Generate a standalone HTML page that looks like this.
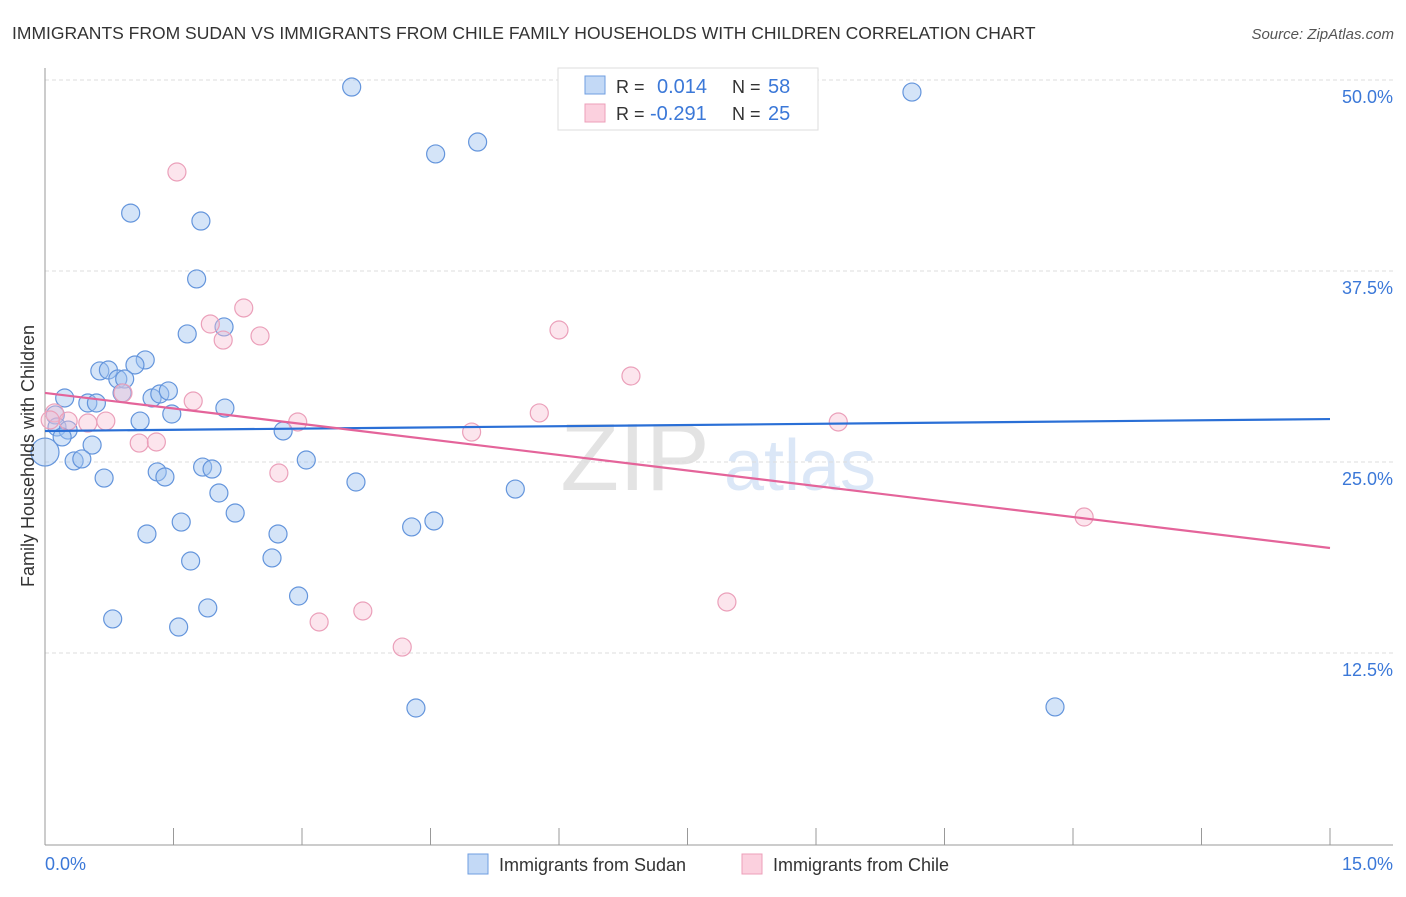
<!DOCTYPE html>
<html><head><meta charset="utf-8"><style>
body{margin:0;background:#fff;font-family:"Liberation Sans",sans-serif}
svg text{font-family:"Liberation Sans",sans-serif}
</style></head><body>
<svg id="c" width="1406" height="892" xmlns="http://www.w3.org/2000/svg">
<text x="12" y="39" font-size="17.5" fill="#333">IMMIGRANTS FROM SUDAN VS IMMIGRANTS FROM CHILE FAMILY HOUSEHOLDS WITH CHILDREN CORRELATION CHART</text>
<text x="1394" y="39" font-size="15" fill="#555" font-style="italic" text-anchor="end">Source: ZipAtlas.com</text>
<g><text x="635" y="490" font-size="96" fill="#e3e3e3" text-anchor="middle" font-family="Liberation Serif">ZIP</text><text x="800" y="490" font-size="72" fill="#dbe7f7" text-anchor="middle">atlas</text></g>
<g id="grid"></g>
<g id="axes"></g>
<g id="pts"></g>
<g id="trend"></g>
<text transform="translate(34,456) rotate(-90)" font-size="18" fill="#333" text-anchor="middle">Family Households with Children</text>
<text x="45" y="870" font-size="18" fill="#3b78d8">0.0%</text>
<text x="1393" y="870" font-size="18" fill="#3b78d8" text-anchor="end">15.0%</text>
<g>
<rect x="558" y="68" width="260" height="62" fill="#fff" stroke="#ddd"/>
<rect x="585" y="76" width="20" height="18" fill="#c3d9f6" stroke="#6f9ee0"/>
<rect x="585" y="104" width="20" height="18" fill="#fbd0de" stroke="#ec9fb9"/>
<text x="616" y="93" font-size="18" fill="#333">R = </text><text x="657" y="93" font-size="20" fill="#3b78d8">0.014</text>
<text x="732" y="93" font-size="18" fill="#333">N = </text><text x="768" y="93" font-size="20" fill="#3b78d8">58</text>
<text x="616" y="120" font-size="18" fill="#333">R = </text><text x="650" y="120" font-size="20" fill="#3b78d8">-0.291</text>
<text x="732" y="120" font-size="18" fill="#333">N = </text><text x="768" y="120" font-size="20" fill="#3b78d8">25</text>
</g>
<g>
<rect x="468" y="854" width="20" height="20" fill="#c3d9f6" stroke="#6f9ee0"/>
<text x="499" y="871" font-size="18" fill="#333">Immigrants from Sudan</text>
<rect x="742" y="854" width="20" height="20" fill="#fbd0de" stroke="#ec9fb9"/>
<text x="773" y="871" font-size="18" fill="#333">Immigrants from Chile</text>
</g>
</svg>
<script>
const yTicks=[12.5,25,37.5,50];
const yTickLabels=["12.5%","25.0%","37.5%","50.0%"];
const xTicks=[0,1.5,3,4.5,6,7.5,9,10.5,12,13.5,15];
const sudanX=[3.58,10.12,4.56,5.05,1.00,1.82,1.77,1.66,2.09,1.17,1.05,0.64,0.74,0.85,0.93,0.23,0.50,0.60,0.90,1.25,1.34,1.44,1.48,2.10,1.11,0.12,0.14,0.27,0.20,0.55,2.78,0.0,0.34,0.43,3.05,0.69,1.31,1.40,1.84,1.95,3.63,2.03,5.49,2.22,1.59,4.28,4.54,1.19,2.72,1.70,2.65,2.96,1.90,0.79,1.56,4.33,11.79];
const sudanY=[49.54,49.21,45.16,45.94,41.29,40.77,36.98,33.38,33.84,31.68,31.35,30.96,31.02,30.43,30.43,29.19,28.86,28.86,29.52,29.19,29.45,29.65,28.14,28.53,27.68,28.08,27.29,27.09,26.64,26.11,27.03,25.65,25.07,25.20,25.13,23.95,24.35,24.02,24.67,24.54,23.69,22.97,23.23,21.66,21.07,20.75,21.14,20.29,20.29,18.52,18.72,16.23,15.45,14.73,14.20,8.90,8.97];
const chileX=[1.54,2.32,1.93,2.08,2.51,6.00,6.84,0.91,1.73,0.11,0.27,0.50,0.71,2.95,4.98,5.77,9.26,1.10,1.30,2.73,12.13,7.96,3.71,3.20,4.17,0.06];
const chileY=[43.98,35.08,34.03,32.98,33.25,33.64,30.63,29.52,28.99,28.21,27.68,27.55,27.68,27.62,26.96,28.21,27.62,26.24,26.31,24.28,21.40,15.84,15.25,14.53,12.89,27.75];
const sudanTrend=[27.03,27.81];
const chileTrend=[29.52,19.37];
const NS="http://www.w3.org/2000/svg";
const X=v=>45+v*(1285/15), Y=v=>80+(50-v)*15.28;
function mk(t,a,p){const e=document.createElementNS(NS,t);for(const k in a)e.setAttribute(k,a[k]);p.appendChild(e);return e;}
const g=document.getElementById('grid');
yTicks.forEach((t,i)=>{
 const l=mk('line',{x1:45,x2:1393,y1:Y(t),y2:Y(t),stroke:'#ddd','stroke-dasharray':'4,3'},g);
 
 
 const tx=mk('text',{x:1393,y:Y(t)+23,'font-size':18,fill:'#3b78d8','text-anchor':'end'},g);
 tx.textContent=yTickLabels[i];
 
 
});
const ax=document.getElementById('axes');
mk('line',{x1:45,x2:45,y1:68,y2:845,stroke:'#999'},ax);
mk('line',{x1:45,x2:1393,y1:845,y2:845,stroke:'#999'},ax);
xTicks.forEach(t=>{const l=mk('line',{x1:X(t),x2:X(t),y1:828,y2:845,stroke:'#999'},ax);
 
 });
const p=document.getElementById('pts');
sudanX.forEach((v,i)=>{const c=mk('circle',{cx:X(v),cy:Y(sudanY[i]),r:i==31?14:9,fill:'rgba(160,196,240,0.45)',stroke:'#6495dc','stroke-width':1.2},p);
 
 });
chileX.forEach((v,i)=>{const c=mk('circle',{cx:X(v),cy:Y(chileY[i]),r:9,fill:'rgba(248,190,210,0.4)',stroke:'#eba0ba','stroke-width':1.2},p);
 
 });
const tr=document.getElementById('trend');
const l1=mk('line',{x1:X(0),x2:X(15),y1:Y(sudanTrend[0]),y2:Y(sudanTrend[1]),stroke:'#2a6fd6','stroke-width':2.2},tr);


const l2=mk('line',{x1:X(0),x2:X(15),y1:Y(chileTrend[0]),y2:Y(chileTrend[1]),stroke:'#e4649a','stroke-width':2.2},tr);


</script>
</body></html>
